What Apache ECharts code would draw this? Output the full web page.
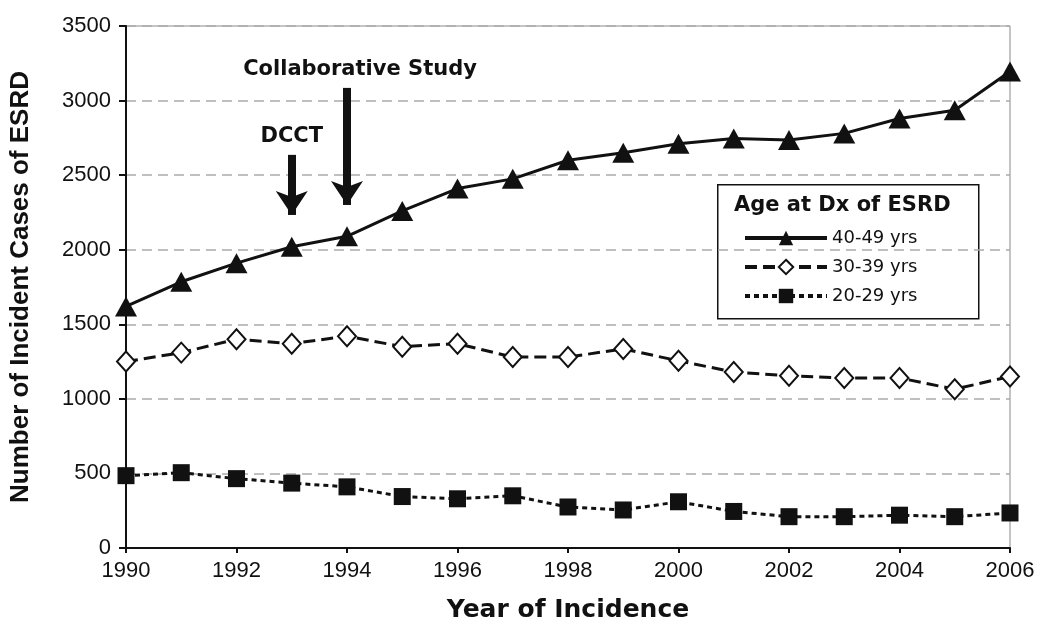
<!DOCTYPE html>
<html><head><meta charset="utf-8">
<script src="https://cdn.jsdelivr.net/npm/echarts@6/dist/echarts.min.js"></script>
<style>html,body{margin:0;padding:0;background:#fff}#c{width:1050px;height:638px}</style>
</head><body><div id="c"></div>
<script>
const years = [1990,1991,1992,1993,1994,1995,1996,1997,1998,1999,2000,2001,2002,2003,2004,2005,2006];
const age40_49 = [1620,1785,1910,2020,2090,2260,2410,2475,2600,2650,2710,2745,2735,2780,2880,2935,3195];
const age30_39 = [1250,1310,1400,1370,1420,1350,1370,1280,1280,1335,1255,1180,1155,1140,1140,1065,1150];
const age20_29 = [485,505,465,435,410,345,330,350,275,255,310,245,210,210,220,210,235];
const seriesNames = ['40-49 yrs','30-39 yrs','20-29 yrs'];
const annotations = [
  {name:'DCCT', x:1993, from:2636, to:2233, shift:0},
  {name:'Collaborative Study', x:1994, from:3085, to:2300, shift:13}
];
const pair = (arr) => years.map((y,i)=>[y,arr[i]]);
const font = 'Arial, "Liberation Sans", sans-serif';
const wide = '"DejaVu Sans", Arial, sans-serif';
const chart = echarts.init(document.getElementById('c'));
chart.setOption({
  animation:false,
  backgroundColor:'#fff',
  grid:{left:126,right:40,top:26,bottom:90,show:true,borderColor:'#888',borderWidth:1},
  xAxis:{type:'value',min:1990,max:2006,interval:2,
    name:'Year of Incidence',nameLocation:'middle',nameGap:50,
    nameTextStyle:{fontFamily:wide,fontSize:25,fontWeight:'bold',color:'#111'},
    axisLine:{lineStyle:{color:'#111',width:2}},
    axisTick:{show:true,length:5,lineStyle:{color:'#111',width:2}},
    axisLabel:{fontFamily:font,fontSize:22,color:'#111',margin:12,formatter:v=>String(v)},
    splitLine:{show:false}},
  yAxis:{type:'value',min:0,max:3500,interval:500,
    name:'Number of Incident Cases of ESRD',nameLocation:'middle',nameGap:92,
    nameTextStyle:{fontFamily:font,fontSize:26,fontWeight:'bold',color:'#111'},
    axisLine:{show:true,lineStyle:{color:'#111',width:2}},
    axisTick:{show:true,length:7,lineStyle:{color:'#111',width:2}},
    axisLabel:{fontFamily:font,fontSize:22,color:'#111',margin:15,formatter:v=>String(v)},
    splitLine:{show:true,lineStyle:{color:'#aaa',type:[10,6],width:1.5}}},
  legend:{orient:'vertical',left:738,top:224,itemWidth:82,itemHeight:18,itemGap:11,
    textStyle:{fontFamily:wide,fontSize:18,color:'#111'},
    lineStyle:{width:4},
    data:seriesNames},
  graphic:[
    {type:'rect',left:717,top:184,shape:{width:261,height:134},style:{fill:'#fff',stroke:'#111',lineWidth:1.5},z:-1},
    {type:'text',left:734,top:195,style:{text:'Age at Dx of ESRD',font:'bold 21px '+wide,fill:'#111'}}
  ],
  series:[
    {name:seriesNames[0],type:'line',data:pair(age40_49),symbol:'triangle',symbolSize:[22,20],
     lineStyle:{color:'#111',width:3},itemStyle:{color:'#111'},z:5,
     markLine:{silent:true,symbol:['none','arrow'],symbolSize:[24,24],
       lineStyle:{color:'#111',width:8,type:'solid'},
       label:{show:true,position:'start',distance:8,formatter:'{b}',fontFamily:wide,fontSize:21,fontWeight:'bold',color:'#111'},
       data:annotations.map(a=>[{name:a.name,coord:[a.x,a.from],label:{offset:[a.shift,0]}},{coord:[a.x,a.to]}])}},
    {name:seriesNames[1],type:'line',data:pair(age30_39),symbol:'diamond',symbolSize:[18,20],
     lineStyle:{color:'#111',width:3,type:[12,6]},itemStyle:{color:'#fff',borderColor:'#111',borderWidth:2},z:4},
    {name:seriesNames[2],type:'line',data:pair(age20_29),symbol:'rect',symbolSize:17,
     lineStyle:{color:'#111',width:3,type:[5,4]},itemStyle:{color:'#111'},z:3}
  ]
});
</script></body></html>
